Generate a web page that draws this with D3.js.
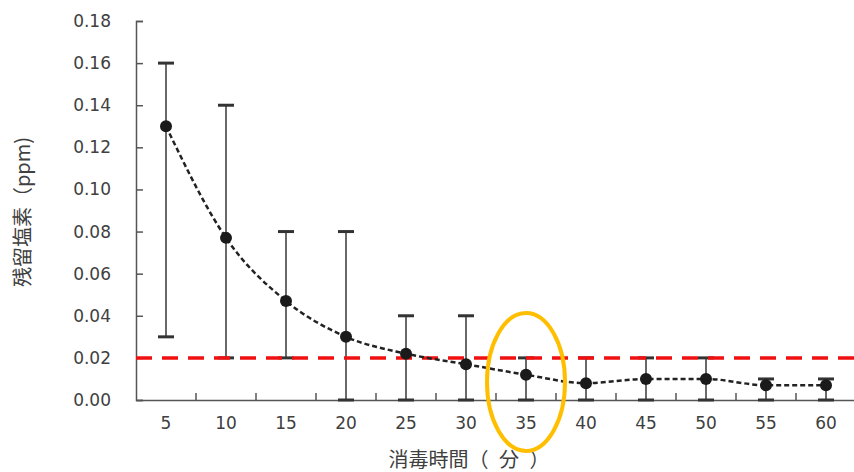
<!DOCTYPE html>
<html><head><meta charset="utf-8">
<script src="https://cdn.jsdelivr.net/npm/d3@7"></script>
<style>body{margin:0;background:#fff}svg{display:block}</style>
</head><body>
<script>
const categories = ["5","10","15","20","25","30","35","40","45","50","55","60"];
const means = [0.130,0.077,0.047,0.030,0.022,0.017,0.012,0.008,0.010,0.010,0.007,0.007];
const upper = [0.16,0.14,0.08,0.08,0.04,0.04,0.02,0.02,0.02,0.02,0.01,0.01];
const lower = [0.03,0.02,0.02,0,0,0,0,0,0,0,0,0];
const yTicks = [0,0.02,0.04,0.06,0.08,0.10,0.12,0.14,0.16,0.18];
const threshold = 0.02;
const highlight = "35";
const xTitle = "消毒時間（ 分 ）";
const yTitle = "残留塩素（ppm)";

const W = 854, H = 472;
const svg = d3.select("body").append("svg").attr("width", W).attr("height", H);
const x = d3.scaleBand().domain(categories).range([136, 856]).padding(0);
const y = d3.scaleLinear().domain([0, 0.18]).range([400, 21]);
const cx = c => x(c) + x.bandwidth()/2;
const axisColor = "#555";
const textColor = "#404040";
const font = "'DejaVu Sans', Verdana, sans-serif";
const cjk = "'Noto Sans CJK JP', sans-serif";

// Y axis
const ya = svg.append("g").attr("transform","translate(136,0)")
  .call(d3.axisLeft(y).tickValues(yTicks).tickFormat(d3.format(".2f")).tickSize(-7).tickPadding(25));
ya.select(".domain").attr("stroke", axisColor).attr("stroke-width",1.5);
ya.selectAll(".tick line").attr("stroke", axisColor).attr("stroke-width",1.5);
ya.selectAll("text").attr("fill", textColor).attr("font-size", 17).attr("font-family", font);

// X axis
const xa = svg.append("g").attr("transform","translate(0,400)")
  .call(d3.axisBottom(x).tickSize(0).tickPadding(17));
xa.select(".domain").attr("stroke", axisColor).attr("stroke-width",1.5);
xa.selectAll("text").attr("fill", textColor).attr("font-size", 17).attr("font-family", font);
svg.append("g").selectAll("line").data(categories).join("line")
  .attr("x1", d => x(d) + x.bandwidth()).attr("x2", d => x(d) + x.bandwidth())
  .attr("y1", 400).attr("y2", 393).attr("stroke", axisColor).attr("stroke-width",1.5);

// Titles
svg.append("text").attr("x", 469).attr("y", 467).attr("text-anchor","middle")
  .attr("xml:space","preserve").attr("word-spacing", 6)
  .attr("font-family", cjk).attr("font-size",20).attr("fill",textColor).text(xTitle);
svg.append("text").attr("transform","translate(30,212) rotate(-90)").attr("text-anchor","middle")
  .attr("font-family", cjk).attr("font-size",20).attr("fill",textColor).text(yTitle);

// Error bars
const eb = svg.append("g");
eb.selectAll("line.v").data(categories).join("line").attr("class","v")
  .attr("x1", cx).attr("x2", cx)
  .attr("y1", (d,i) => y(upper[i])).attr("y2", (d,i) => y(lower[i]))
  .attr("stroke","#444").attr("stroke-width",1.6);
[upper, lower].forEach(arr => {
  eb.append("g").selectAll("line").data(categories).join("line")
    .attr("x1", d => cx(d) - 8).attr("x2", d => cx(d) + 8)
    .attr("y1", (d,i) => y(arr[i])).attr("y2", (d,i) => y(arr[i]))
    .attr("stroke","#333").attr("stroke-width",3);
});

// Threshold line
svg.append("line").attr("x1",136).attr("x2",854).attr("y1",y(threshold)).attr("y2",y(threshold))
  .attr("stroke","#f01010").attr("stroke-width",3.5).attr("stroke-dasharray","16,10");

// Mean line
const line = d3.line().x((d,i) => cx(categories[i])).y(d => y(d)).curve(d3.curveMonotoneX);
svg.append("path").datum(means).attr("d", line).attr("fill","none")
  .attr("stroke","#222").attr("stroke-width",2.5).attr("stroke-dasharray","5,3");
svg.append("g").selectAll("circle").data(means).join("circle")
  .attr("cx", (d,i) => cx(categories[i])).attr("cy", d => y(d)).attr("r", 6).attr("fill","#1a1a1a");

// Highlight ellipse
svg.append("ellipse").attr("cx", cx(highlight)).attr("cy", 382).attr("rx", 39).attr("ry", 69)
  .attr("fill","none").attr("stroke","#ffbf00").attr("stroke-width",4);
</script>
</body></html>
